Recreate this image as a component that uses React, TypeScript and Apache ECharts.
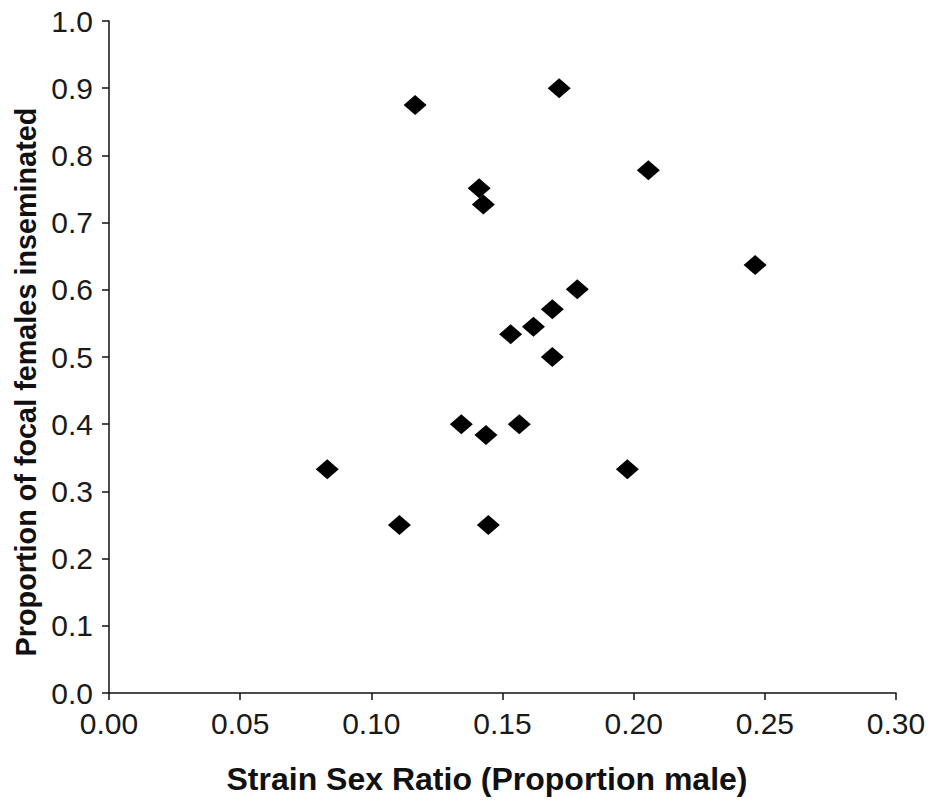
import React, { useEffect, useRef } from "react";
import * as echarts from "echarts";

const sexRatio = [
  0.1167, 0.1716, 0.2056, 0.1411, 0.1427, 0.2463, 0.1785, 0.169, 0.1618,
  0.1531, 0.169, 0.1343, 0.1437, 0.1564, 0.0832, 0.1976, 0.1107, 0.1446,
];
const inseminated = [
  0.875, 0.9, 0.778, 0.751, 0.727, 0.637, 0.601, 0.571, 0.545,
  0.534, 0.5, 0.4, 0.384, 0.4, 0.333, 0.333, 0.25, 0.25,
];
const xTitle = "Strain Sex Ratio (Proportion male)";
const yTitle = "Proportion of focal females inseminated";

export default function App() {
  const ref = useRef<HTMLDivElement>(null);
  useEffect(() => {
    if (!ref.current) return;
    const chart = echarts.init(ref.current, null, { renderer: "svg" });
    const font = "Liberation Sans, Arial, sans-serif";
    const axisLine = { show: true, lineStyle: { color: "#111", width: 1.5 } };
    const axisTick = { show: true, inside: false, length: 7, lineStyle: { color: "#111", width: 1.5 } };
    chart.setOption({
      animation: false,
      backgroundColor: "#fff",
      grid: { left: 109, right: 36, top: 21, bottom: 111, containLabel: false },
      xAxis: {
        type: "value",
        min: 0,
        max: 0.3,
        interval: 0.05,
        axisLine,
        axisTick,
        splitLine: { show: false },
        axisLabel: {
          margin: 15,
          fontSize: 30,
          fontFamily: font,
          color: "#1a1a1a",
          formatter: (v: number) => v.toFixed(2),
        },
      },
      yAxis: {
        type: "value",
        min: 0,
        max: 1,
        interval: 0.1,
        axisLine,
        axisTick,
        splitLine: { show: false },
        axisLabel: {
          margin: 16,
          fontSize: 30,
          fontFamily: font,
          color: "#1a1a1a",
          formatter: (v: number) => v.toFixed(1),
        },
      },
      graphic: [
        {
          type: "text",
          x: 487,
          y: 779,
          style: {
            text: xTitle,
            fontSize: 32,
            fontWeight: "bold",
            fontFamily: font,
            fill: "#111",
            align: "center",
            verticalAlign: "middle",
          },
        },
        {
          type: "text",
          x: 26,
          y: 382,
          rotation: Math.PI / 2,
          style: {
            text: yTitle,
            fontSize: 28.8,
            fontWeight: "bold",
            fontFamily: font,
            fill: "#111",
            align: "center",
            verticalAlign: "middle",
          },
        },
      ],
      series: [
        {
          type: "scatter",
          symbol: "diamond",
          symbolSize: [23, 20],
          itemStyle: { color: "#000", opacity: 1 },
          data: sexRatio.map((x, i) => [x, inseminated[i]]),
        },
      ],
    });
    return () => chart.dispose();
  }, []);
  return (
    <div
      ref={ref}
      style={{ position: "fixed", left: 0, top: 0, width: 932, height: 804, background: "#fff" }}
    />
  );
}
